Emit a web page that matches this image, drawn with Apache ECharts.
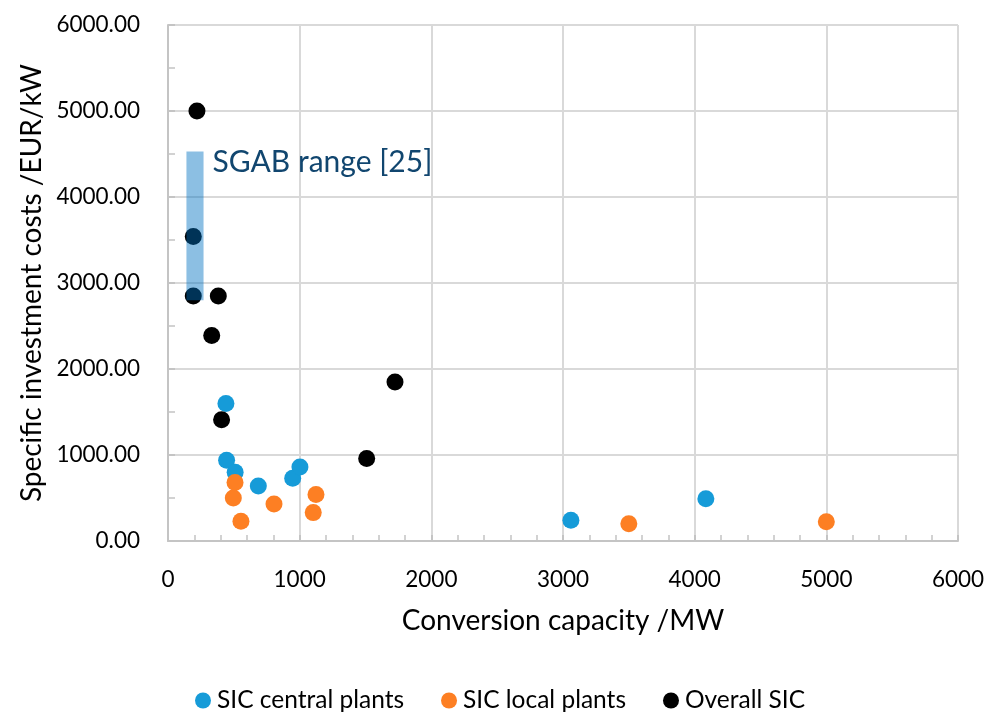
<!DOCTYPE html>
<html>
<head>
<meta charset="utf-8">
<script src="https://cdn.jsdelivr.net/npm/echarts@6/dist/echarts.min.js"></script>
<style>
  html, body { margin: 0; padding: 0; background: #fff; }
  #chart { width: 998px; height: 713px; }
</style>
</head>
<body>
<div id="chart"></div>
<script>
// SIC central plants: [capacity MW, cost EUR/kW]
let centralCap = [440, 445, 510, 686, 947, 1002, 3060, 4085];
let centralCost = [1600, 940, 800, 640, 730, 860, 240, 490];
// SIC local plants
let localCap = [509, 496, 554, 805, 1124, 1103, 3500, 5000];
let localCost = [680, 500, 230, 430, 540, 330, 200, 225];
// Overall SIC
let overallCap = [220, 192, 192, 382, 332, 407, 1509, 1724];
let overallCost = [5000, 3540, 2850, 2850, 2390, 1410, 960, 1850];
// SGAB range [25] bar
let sgabCap = [140, 270];
let sgabCost = [2800, 4530];

let seriesNames = ['SIC central plants', 'SIC local plants', 'Overall SIC'];
let seriesColors = ['#169bd8', '#fd7f23', '#000000'];

function pairs(xs, ys) {
  return xs.map((x, i) => [x, ys[i]]);
}

let fontFamily = 'Lato, "Open Sans", sans-serif';
let chart = echarts.init(document.getElementById('chart'), null, { renderer: 'canvas' });

let option = {
  animation: false,
  textStyle: { fontFamily: fontFamily, color: '#000' },
  grid: { left: 168, top: 25, width: 790, height: 516, containLabel: false },
  legend: {
    left: 190,
    top: 683,
    icon: 'circle',
    itemWidth: 16,
    itemHeight: 16,
    itemGap: 37,
    textStyle: { fontFamily: fontFamily, fontSize: 24.5, color: '#000', padding: [0, 0, 0, 1] },
    data: seriesNames
  },
  xAxis: {
    type: 'value',
    min: 0,
    max: 6000,
    interval: 1000,
    name: 'Conversion capacity /MW',
    nameLocation: 'middle',
    nameGap: 66,
    nameTextStyle: { fontFamily: fontFamily, fontSize: 28, color: '#000' },
    axisLine: { show: true, lineStyle: { color: '#c4c4c4', width: 2 } },
    axisTick: { show: true, inside: true, length: 6, lineStyle: { color: '#c4c4c4', width: 2 } },
    minorTick: { show: true, splitNumber: 5, length: 6, lineStyle: { color: '#c4c4c4', width: 1.5 } },
    axisLabel: {
      fontFamily: fontFamily, fontSize: 22.5, color: '#000', margin: 27,
      formatter: v => String(v)
    },
    splitLine: { show: true, lineStyle: { color: '#d9d9d9', width: 2 } }
  },
  yAxis: {
    type: 'value',
    min: 0,
    max: 6000,
    interval: 1000,
    name: 'Specific investment costs /EUR/kW',
    nameLocation: 'middle',
    nameGap: 119,
    nameTextStyle: { fontFamily: fontFamily, fontSize: 28, color: '#000' },
    axisLine: { show: true, lineStyle: { color: '#c4c4c4', width: 2 } },
    axisTick: { show: true, inside: true, length: 7, lineStyle: { color: '#c4c4c4', width: 2 } },
    minorTick: { show: true, splitNumber: 2, length: 7, lineStyle: { color: '#c4c4c4', width: 1.5 } },
    axisLabel: {
      fontFamily: fontFamily, fontSize: 22.5, color: '#000', margin: 28,
      formatter: v => v.toFixed(2)
    },
    splitLine: { show: true, lineStyle: { color: '#d9d9d9', width: 2 } }
  },
  series: [
    {
      name: seriesNames[0], type: 'scatter', symbolSize: 17,
      itemStyle: { color: seriesColors[0], opacity: 1 },
      data: pairs(centralCap, centralCost)
    },
    {
      name: seriesNames[1], type: 'scatter', symbolSize: 17,
      itemStyle: { color: seriesColors[1], opacity: 1 },
      data: pairs(localCap, localCost)
    },
    {
      name: seriesNames[2], type: 'scatter', symbolSize: 17,
      itemStyle: { color: seriesColors[2], opacity: 1 },
      data: pairs(overallCap, overallCost)
    },
    {
      // SGAB range bar, drawn on top of the points
      type: 'custom',
      z: 10,
      silent: true,
      renderItem: function (params, api) {
        let p1 = api.coord([api.value(0), api.value(3)]);
        let p2 = api.coord([api.value(1), api.value(2)]);
        return {
          type: 'group',
          children: [
            {
              type: 'rect',
              shape: { x: p1[0], y: p1[1], width: p2[0] - p1[0], height: p2[1] - p1[1] },
              style: { fill: 'rgba(0, 112, 192, 0.45)' }
            },
            {
              type: 'text',
              x: p2[0] + 9,
              y: p1[1] + 11,
              style: {
                text: 'SGAB range [25]',
                fill: '#11466f',
                font: '30px ' + fontFamily,
                textVerticalAlign: 'middle'
              }
            }
          ]
        };
      },
      data: [[sgabCap[0], sgabCap[1], sgabCost[0], sgabCost[1]]]
    }
  ]
};

chart.setOption(option);
</script>
</body>
</html>
